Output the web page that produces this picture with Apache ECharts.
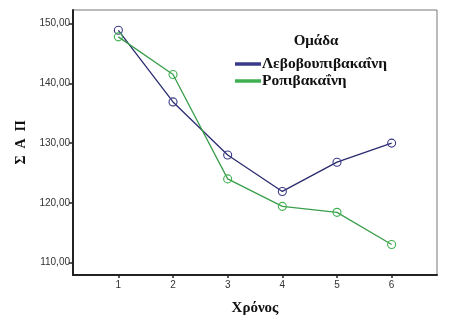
<!DOCTYPE html>
<html>
<head>
<meta charset="utf-8">
<script src="https://cdn.jsdelivr.net/npm/echarts@6/dist/echarts.min.js"></script>
<style>
html,body{margin:0;padding:0;background:#fff;}
#chart{width:465px;height:324px;}
</style>
</head>
<body>
<div id="chart"></div>
<script>
// Time points (x) and group means (ΣΑΠ)
const timePoints = [1, 2, 3, 4, 5, 6];
const levobupivacaine = [148.9, 136.9, 128.0, 121.9, 126.8, 130.0];
const ropivacaine = [147.8, 141.5, 124.0, 119.4, 118.4, 113.0];
const yTicks = [110, 120, 130, 140, 150];
const seriesNames = ['Λεβοβουπιβακαΐνη', 'Ροπιβακαΐνη'];

const serif = '"Liberation Serif", "DejaVu Serif", serif';
const sans = '"Liberation Sans", Arial, sans-serif';

const chart = echarts.init(document.getElementById('chart'));
const pair = (xs, ys) => xs.map((x, i) => [x, ys[i]]);

chart.setOption({
  animation: false,
  grid: { left: 73, top: 10, right: 28, bottom: 49, show: true, borderColor: '#777', borderWidth: 1 },
  title: {
    text: 'Ομάδα', left: 311, top: 29, textAlign: 'center',
    textStyle: { fontFamily: serif, fontSize: 15, fontWeight: 'bold', color: '#111' }
  },
  legend: {
    data: seriesNames, orient: 'vertical', left: 230, top: 51, itemGap: 1,
    itemWidth: 24, itemHeight: 15, icon: 'path://M0,6.5L24,6.5L24,8L0,8Z',
    textStyle: { fontFamily: serif, fontSize: 15.5, fontWeight: 'bold', color: '#111', padding: [0, 0, 0, -3] }
  },
  xAxis: {
    type: 'value', min: 0.17, max: 6.83,
    name: 'Χρόνος', nameLocation: 'middle', nameGap: 26,
    nameTextStyle: { fontFamily: serif, fontSize: 15, fontWeight: 'bold', color: '#111' },
    axisLine: { lineStyle: { color: '#222', width: 2 } },
    axisTick: { customValues: timePoints, length: 3, lineStyle: { color: '#222', width: 1.5 } },
    axisLabel: { customValues: timePoints, fontFamily: sans, fontSize: 10, color: '#333', margin: 5 },
    splitLine: { show: false }
  },
  yAxis: {
    type: 'value', min: 107.9, max: 152.3,
    name: 'Σ  Α  Π', nameLocation: 'middle', nameGap: 33, nameRotate: 90,
    nameTextStyle: { fontFamily: serif, fontSize: 14, fontWeight: 'bold', color: '#111' },
    axisLine: { show: true, lineStyle: { color: '#222', width: 2 } },
    axisTick: { show: true, customValues: yTicks, length: 4, lineStyle: { color: '#222', width: 1.5 } },
    axisLabel: {
      customValues: yTicks, fontFamily: sans, fontSize: 10, color: '#333', margin: 3,
      formatter: v => v.toFixed(2).replace('.', ',')
    },
    splitLine: { show: false }
  },
  series: [
    {
      name: seriesNames[0], type: 'line', data: pair(timePoints, levobupivacaine),
      symbol: 'circle', symbolSize: 8, color: '#2a2b6e',
      lineStyle: { width: 1.3, color: '#2a2b6e' },
      itemStyle: { color: 'rgba(0,0,0,0)', borderColor: '#3a3a8a', borderWidth: 1.1 }
    },
    {
      name: seriesNames[1], type: 'line', data: pair(timePoints, ropivacaine),
      symbol: 'circle', symbolSize: 8, color: '#3a9e4c',
      lineStyle: { width: 1.3, color: '#3a9e4c' },
      itemStyle: { color: 'rgba(0,0,0,0)', borderColor: '#3fb050', borderWidth: 1.1 }
    }
  ]
});
</script>
</body>
</html>
